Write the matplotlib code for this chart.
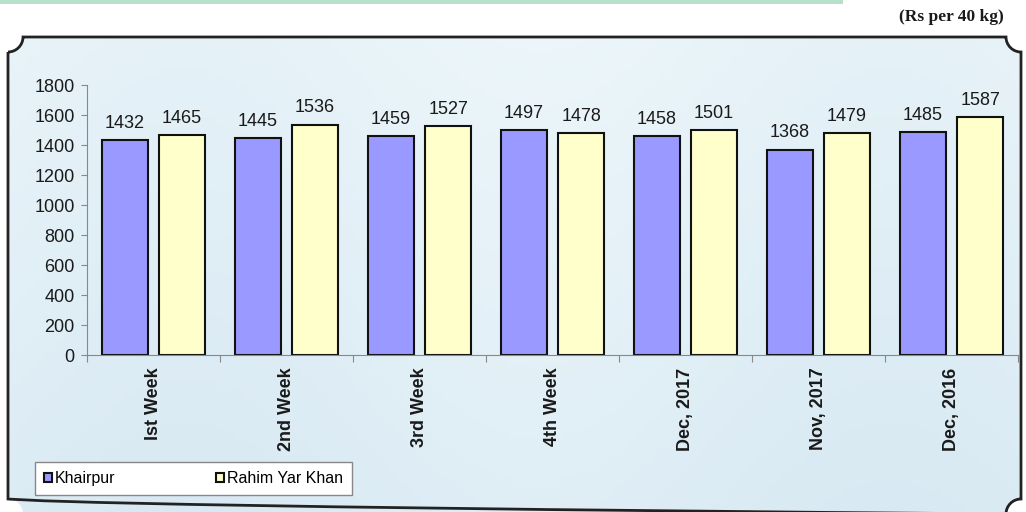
import numpy as np
import matplotlib.pyplot as plt
from matplotlib.path import Path
from matplotlib.patches import PathPatch, Rectangle

# Wheat prices (Rs per 40 kg)
periods = ["Ist Week", "2nd Week", "3rd Week", "4th Week",
           "Dec, 2017", "Nov, 2017", "Dec, 2016"]
khairpur = [1432, 1445, 1459, 1497, 1458, 1368, 1485]
rahim_yar_khan = [1465, 1536, 1527, 1478, 1501, 1479, 1587]
series_names = ["Khairpur", "Rahim Yar Khan"]
yticks = [0, 200, 400, 600, 800, 1000, 1200, 1400, 1600, 1800]

plt.rcParams['font.family'] = ['Liberation Sans', 'DejaVu Sans']
txt = '#1a1a1a'

W, H = 1026, 512
fig = plt.figure(figsize=(W / 100, H / 100), dpi=100)

# background layer in pixel coords
bg = fig.add_axes([0, 0, 1, 1])
bg.set_xlim(0, W)
bg.set_ylim(H, 0)
bg.axis('off')

# top green band
bg.add_patch(Rectangle((0, 0), 843, 4, facecolor='#b7e0cb', edgecolor='none'))
bg.text(1004, 17, "(Rs per 40 kg)", ha='right', va='center', fontsize=12.5,
        fontweight='bold', family='Liberation Serif', color=txt)

# frame with concave corners
r = 15
top, left, right, bottom = 37, 8, 1021, 514
k = 0.55
verts = [
    (left, top + r),
    (left + r * k, top + r), (left + r, top + r * k), (left + r, top),
    (right - r, top),
    (right - r, top + r * k), (right - r * k, top + r), (right, top + r),
    (right, bottom - r),
    (right - r * k, bottom - r), (right - r, bottom - r * k), (right - r, bottom),
    (left + r, bottom),
    (left + r, bottom - r * k), (left + r * k, bottom - r), (left, bottom - r),
    (left, top + r),
]
codes = [Path.MOVETO,
         Path.CURVE4, Path.CURVE4, Path.CURVE4,
         Path.LINETO,
         Path.CURVE4, Path.CURVE4, Path.CURVE4,
         Path.LINETO,
         Path.CURVE4, Path.CURVE4, Path.CURVE4,
         Path.LINETO,
         Path.CURVE4, Path.CURVE4, Path.CURVE4,
         Path.CLOSEPOLY]
frame = PathPatch(Path(verts, codes), facecolor='none', edgecolor='#222222', lw=2)
bg.add_patch(frame)

gx = np.linspace(0, 1, 200)
gy = np.linspace(0, 1, 100)
GX, GY = np.meshgrid(gx, gy)
c0 = np.array([0.84, 0.91, 0.95])
c1 = np.array([0.95, 0.98, 0.99])
t = np.clip(0.35 + 0.12 * np.sin(GX * 9) + 0.45 * GY, 0, 1)[..., None]
img = c0 * t + c1 * (1 - t)
im = bg.imshow(img, extent=[left, right, bottom, top], aspect='auto', zorder=0)
im.set_clip_path(frame)

# chart
ax = fig.add_axes([87 / W, 1 - 355 / H, (1018 - 87) / W, (355 - 85) / H])
ax.patch.set_alpha(0)
n = len(periods)
x = np.arange(n) + 0.5
bw = 0.34
b1 = ax.bar(x - 0.215, khairpur, bw, color='#9999ff', edgecolor='#111111',
            lw=1.5, label=series_names[0])
b2 = ax.bar(x + 0.215, rahim_yar_khan, bw, color='#ffffcc', edgecolor='#111111',
            lw=1.5, label=series_names[1])
for bars in (b1, b2):
    for b in bars:
        ax.annotate(f"{int(b.get_height())}", (b.get_x() + b.get_width() / 2, b.get_height()),
                    xytext=(0, 6), textcoords='offset points', ha='center', va='bottom',
                    fontsize=13, color=txt)

ax.set_xlim(0, n)
ax.set_ylim(0, 1800)
ax.set_yticks(yticks)
ax.tick_params(axis='y', labelsize=13, labelcolor=txt, color='#888888',
               length=4, width=0.8, pad=5)
ax.set_xticks(x)
ax.set_xticklabels(periods, rotation=90, fontsize=13, fontweight='bold', color=txt)
ax.tick_params(axis='x', length=0, pad=9)
ax.set_xticks(np.arange(n + 1), minor=True)
ax.tick_params(axis='x', which='minor', length=5, color='#888888', width=0.8)
for s in ('top', 'right'):
    ax.spines[s].set_visible(False)
for s in ('left', 'bottom'):
    ax.spines[s].set_color('#888888')
    ax.spines[s].set_linewidth(0.8)

fig.legend(handles=[b1, b2], labels=series_names, loc='lower left',
           bbox_to_anchor=(35 / W, 17 / H, 317 / W, 35 / H), mode='expand',
           ncol=2, fontsize=11.5, frameon=True, fancybox=False, edgecolor='#888888',
           facecolor='white', framealpha=1, handlelength=0.5, handleheight=0.5,
           handletextpad=0.2, borderaxespad=0, borderpad=0.55)

fig.savefig('out.png', dpi=100)
